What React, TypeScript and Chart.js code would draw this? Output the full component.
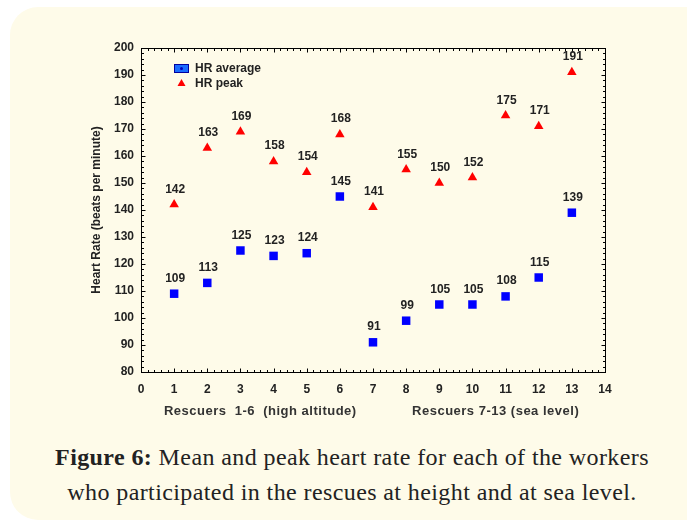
import React, { useEffect, useRef } from "react";
import { Chart, registerables } from "chart.js";

Chart.register(...registerables);

const rescuers = [1, 2, 3, 4, 5, 6, 7, 8, 9, 10, 11, 12, 13];
const hrAverage = [109, 113, 125, 123, 124, 145, 91, 99, 105, 105, 108, 115, 139];
const hrPeak = [142, 163, 169, 158, 154, 168, 141, 155, 150, 152, 175, 171, 191];
const yTitle = "Heart Rate (beats per minute)";
const xTitleLeft = "Rescuers  1-6  (high altitude)";
const xTitleRight = "Rescuers 7-13 (sea level)";
const legendLabels = ["HR average", "HR peak"];

const TXT = "#222222";
const FONT = "Liberation Sans, Arial, sans-serif";

const framePlugin = {
  id: "frame",
  afterDraw(chart: any) {
    const { ctx, chartArea: a, scales } = chart;
    const xs = scales.x;
    const ys = scales.y;
    ctx.save();
    ctx.strokeStyle = "#000";
    ctx.lineWidth = 1;
    const L = Math.round(a.left) + 0.5;
    const R = Math.round(a.right) + 0.5;
    const T = Math.round(a.top) + 0.5;
    const B = Math.round(a.bottom) + 0.5;
    ctx.strokeRect(L, T, R - L, B - T);
    ctx.beginPath();
    for (let i = 0; i <= 70; i++) {
      const v = i * 0.2;
      const px = Math.round(xs.getPixelForValue(v)) + 0.5;
      const len = i % 5 === 0 ? 4 : 2.5;
      ctx.moveTo(px, B);
      ctx.lineTo(px, B - len);
      ctx.moveTo(px, T);
      ctx.lineTo(px, T + len);
    }
    for (let i = 0; i <= 60; i++) {
      const v = 80 + i * 2;
      const py = Math.round(ys.getPixelForValue(v)) + 0.5;
      const len = i % 5 === 0 ? 4 : 2.5;
      ctx.moveTo(L, py);
      ctx.lineTo(L + len, py);
      ctx.moveTo(R, py);
      ctx.lineTo(R - len, py);
    }
    ctx.stroke();

    // data labels
    ctx.fillStyle = TXT;
    ctx.font = "bold 12px " + FONT;
    ctx.textAlign = "center";
    ctx.textBaseline = "alphabetic";
    chart.data.datasets.forEach((ds: any, di: number) => {
      const meta = chart.getDatasetMeta(di);
      meta.data.forEach((pt: any, i: number) => {
        ctx.fillText(String(ds.data[i].y), pt.x + 1, pt.y - 12);
      });
    });

    // x axis titles
    ctx.fillStyle = "#333";
    ctx.font = "bold 13px " + FONT;
    (ctx as any).letterSpacing = "0.5px";
    ctx.textBaseline = "middle";
    ctx.fillText(xTitleLeft, xs.getPixelForValue(3.6), 411);
    ctx.fillText(xTitleRight, xs.getPixelForValue(10.7), 411);
    (ctx as any).letterSpacing = "0px";

    // legend
    const lx = a.left + 33;
    const ly = a.top + 16;
    ctx.fillStyle = "#1a6cff";
    ctx.fillRect(lx, ly, 15, 9);
    ctx.strokeStyle = "#0000a0";
    ctx.strokeRect(lx + 0.5, ly + 0.5, 14, 8);
    ctx.fillStyle = "#0000c0";
    ctx.beginPath();
    ctx.arc(lx + 7.5, ly + 4.5, 1.5, 0, Math.PI * 2);
    ctx.fill();
    ctx.fillStyle = "#ff0000";
    ctx.beginPath();
    ctx.moveTo(lx + 7.5, ly + 15);
    ctx.lineTo(lx + 11.5, ly + 22);
    ctx.lineTo(lx + 3.5, ly + 22);
    ctx.closePath();
    ctx.fill();
    ctx.fillStyle = TXT;
    ctx.textAlign = "left";
    ctx.font = "bold 12px " + FONT;
    ctx.fillText(legendLabels[0], lx + 21, ly + 5);
    ctx.fillText(legendLabels[1], lx + 21, ly + 20);
    ctx.restore();
  },
};

export default function App() {
  const ref = useRef<HTMLCanvasElement>(null);
  useEffect(() => {
    if (!ref.current) return;
    const chart = new Chart(ref.current, {
      type: "scatter",
      data: {
        datasets: [
          {
            label: legendLabels[0],
            data: rescuers.map((r, i) => ({ x: r, y: hrAverage[i] })),
            pointStyle: "rect",
            pointRadius: 6,
            backgroundColor: "#0000ff",
            borderColor: "#0000ff",
            borderWidth: 0,
          },
          {
            label: legendLabels[1],
            data: rescuers.map((r, i) => ({ x: r, y: hrPeak[i] })),
            pointStyle: "triangle",
            pointRadius: 5.5,
            backgroundColor: "#ff0000",
            borderColor: "#ff0000",
            borderWidth: 0,
          },
        ],
      },
      options: {
        animation: false,
        responsive: false,
        maintainAspectRatio: false,
        layout: { padding: { left: 85, right: 82, top: 48, bottom: 0 } },
        plugins: { legend: { display: false }, tooltip: { enabled: false } },
        scales: {
          x: {
            type: "linear",
            min: 0,
            max: 14,
            afterFit: (s: any) => {
              s.height = 68;
            },
            ticks: {
              stepSize: 1,
              padding: 10,
              color: TXT,
              font: { family: FONT, size: 12, weight: "bold" },
            },
            grid: { display: true, drawOnChartArea: false, drawTicks: false },
            border: { display: false },
          },
          y: {
            min: 80,
            max: 200,
            afterFit: (s: any) => {
              s.width = 56;
            },
            ticks: {
              stepSize: 10,
              padding: 7,
              color: TXT,
              font: { family: FONT, size: 12, weight: "bold" },
            },
            title: {
              display: true,
              text: yTitle,
              color: TXT,
              font: { family: FONT, size: 12, weight: "bold" },
              padding: { top: 4, bottom: 4 },
            },
            grid: { display: true, drawOnChartArea: false, drawTicks: false },
            border: { display: false },
          },
        },
      },
      plugins: [framePlugin],
    });
    return () => chart.destroy();
  }, []);

  return (
    <div>
      <div
        style={{
          position: "absolute",
          left: 10,
          top: 7,
          width: 710,
          height: 513,
          borderRadius: 28,
          background: "#fefbe9",
        }}
      />
      <canvas
        ref={ref}
        width={687}
        height={440}
        style={{ position: "absolute", left: 0, top: 0, width: 687, height: 440 }}
      />
      <div
        style={{
          position: "absolute",
          left: 10,
          top: 440,
          width: 684,
          textAlign: "center",
          fontFamily: "Liberation Serif, serif",
          fontSize: 24,
          letterSpacing: "0.4px",
          lineHeight: "35px",
          color: "#222",
        }}
      >
        <b>Figure 6:</b> Mean and peak heart rate for each of the workers
        <br />
        who participated in the rescues at height and at sea level.
      </div>
    </div>
  );
}
